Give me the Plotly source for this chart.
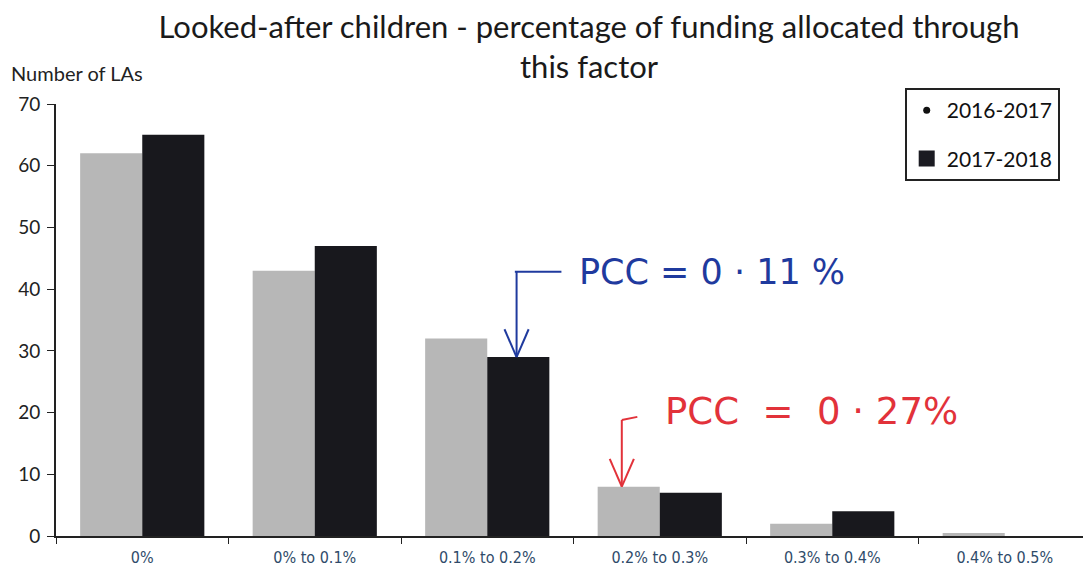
import plotly.graph_objects as go

categories = ["0%", "0% to 0.1%", "0.1% to 0.2%", "0.2% to 0.3%", "0.3% to 0.4%", "0.4% to 0.5%"]
series_2016 = [62, 43, 32, 8, 2, 0.5]
series_2017 = [65, 47, 29, 7, 4, 0]
series_names = ["2016-2017", "2017-2018"]
y_ticks = [0, 10, 20, 30, 40, 50, 60, 70]

fig = go.Figure()
fig.add_trace(go.Bar(x=categories, y=series_2016, name=series_names[0],
                     marker=dict(color="#b7b7b7", line=dict(width=0)), showlegend=False))
fig.add_trace(go.Bar(x=categories, y=series_2017, name=series_names[1],
                     marker=dict(color="#18181d", line=dict(width=0)), showlegend=False))
# legend entries as drawn in the reference
fig.add_trace(go.Scatter(x=[None], y=[None], mode="markers", name=series_names[0], legendgroup="a",
                         marker=dict(symbol="circle", size=7, color="#111")))
fig.add_trace(go.Scatter(x=[None], y=[None], mode="markers", name=series_names[1], legendgroup="b",
                         marker=dict(symbol="square", size=16, color="#1b1b22")))

font_main = "Lato, 'Open Sans', sans-serif"
blue = "#1f3a9e"
red = "#e2323a"

# blue annotation: arrow to 2017-2018 bar of "0.1% to 0.2%"
bx = 2 + 0.17
by_tail = 42.8
fig.add_shape(type="line", xref="x", yref="y", x0=bx - 0.01, x1=bx + 0.26, y0=by_tail, y1=by_tail,
              line=dict(color=blue, width=2))
fig.add_shape(type="line", xref="x", yref="y", x0=bx, x1=bx, y0=series_2017[2], y1=by_tail,
              line=dict(color=blue, width=2))
fig.add_shape(type="line", xref="x", yref="y", x0=bx - 0.07, x1=bx, y0=series_2017[2] + 4.5, y1=series_2017[2],
              line=dict(color=blue, width=2))
fig.add_shape(type="line", xref="x", yref="y", x0=bx + 0.07, x1=bx, y0=series_2017[2] + 4.5, y1=series_2017[2],
              line=dict(color=blue, width=2))
fig.add_annotation(x=2.52, y=by_tail, xref="x", yref="y", text="PCC = 0 · 11 %", showarrow=False,
                   xanchor="left", font=dict(family="'DejaVu Sans', sans-serif", size=35, color=blue))

# red annotation: arrow to 2016-2017 bar of "0.2% to 0.3%"
rx = 3 - 0.22
ry_tail = 18.8
fig.add_shape(type="line", xref="x", yref="y", x0=rx, x1=rx, y0=series_2016[3], y1=ry_tail,
              line=dict(color=red, width=2))
fig.add_shape(type="line", xref="x", yref="y", x0=rx, x1=rx + 0.09, y0=ry_tail, y1=ry_tail + 0.5,
              line=dict(color=red, width=2))
fig.add_shape(type="line", xref="x", yref="y", x0=rx - 0.07, x1=rx, y0=series_2016[3] + 4.5, y1=series_2016[3],
              line=dict(color=red, width=2))
fig.add_shape(type="line", xref="x", yref="y", x0=rx + 0.07, x1=rx, y0=series_2016[3] + 4.5, y1=series_2016[3],
              line=dict(color=red, width=2))
fig.add_annotation(x=3.02, y=20.2, xref="x", yref="y", text="PCC  =  0 · 27%", showarrow=False,
                   xanchor="left", font=dict(family="'DejaVu Sans', sans-serif", size=37, color=red))

fig.add_annotation(xref="paper", yref="paper", x=-0.045, y=1.072, xanchor="left", yanchor="middle",
                   text="Number of LAs", showarrow=False,
                   font=dict(family=font_main, size=20, color="#222"))

# The page body has an 8px margin: figure sized so the plot fills the 1091x569 window
fig.update_layout(
    width=1083, height=561,
    margin=dict(l=48, r=0, t=96, b=33),
    paper_bgcolor="white", plot_bgcolor="white",
    barmode="group", bargap=0.28, bargroupgap=0,
    title=dict(text="Looked-after children - percentage of funding allocated through<br>this factor",
               x=0.5365, xanchor="center", y=0.947, yanchor="middle",
               font=dict(family=font_main, size=31, color="#1a1a1a")),
    legend=dict(x=0.82, y=1.037, xanchor="left", yanchor="top", bordercolor="#222", borderwidth=2,
                bgcolor="white", font=dict(family=font_main, size=21, color="#111"),
                itemsizing="trace", tracegroupgap=18),
    xaxis=dict(type="category", categoryorder="array", categoryarray=categories,
               range=[-0.5, 5.5], showline=True, linecolor="#222", linewidth=2,
               ticks="outside", tickson="boundaries", ticklen=6, tickcolor="#222",
               ticklabelstandoff=6,
               tickfont=dict(family="'Liberation Sans Narrow', 'DejaVu Sans Condensed', sans-serif",
                             size=16, color="#2f4b6a"),
               showgrid=False),
    yaxis=dict(range=[0, 70], tickvals=y_ticks, showline=True, linecolor="#222", linewidth=2,
               ticks="outside", ticklen=7, tickcolor="#222", showgrid=False, zeroline=False,
               ticklabelstandoff=3,
               tickfont=dict(family=font_main, size=19, color="#222")),
)

fig.write_html("out.html")
